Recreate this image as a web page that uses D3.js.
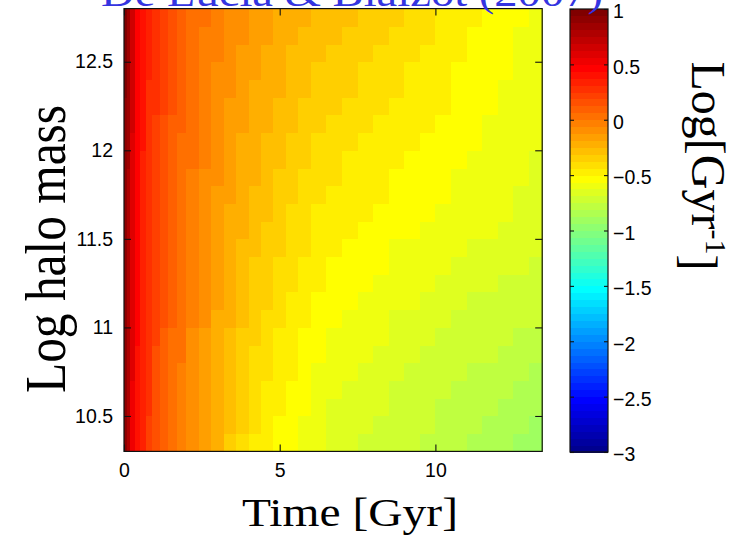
<!DOCTYPE html>
<html><head><meta charset="utf-8">
<script src="https://cdn.jsdelivr.net/npm/d3@7"></script>
<style>body{margin:0;background:#fff;} svg{display:block;}</style>
</head><body>
<svg id="chart" width="740" height="545"></svg>
<script>
// ---------------- data ----------------
const timeEdges = [0,0.1,0.2,0.35,0.5,0.7,0.9,1.15,1.4,1.7,2.0,2.4,2.8,3.2,3.6,4.0,4.4,4.8,5.2,5.6,6.0,6.5,7.0,7.5,8.0,8.5,9.0,9.5,10.0,10.5,11.0,11.5,12.0,12.5,13.0,13.43];
const massEdges = [10.3,10.4,10.5,10.6,10.7,10.8,10.9,11.0,11.1,11.2,11.3,11.4,11.5,11.6,11.7,11.8,11.9,12.0,12.1,12.2,12.3,12.4,12.5,12.6,12.7,12.8];
// log rate [Gyr^-1]; one array per time bin, values from low to high halo mass
const rateByTime = [
 [0.90,0.90,0.90,0.91,0.91,0.91,0.91,0.91,0.91,0.91,0.92,0.92,0.92,0.92,0.92,0.93,0.93,0.93,0.93,0.93,0.94,0.94,0.94,0.95,0.95],
 [0.75,0.75,0.76,0.76,0.77,0.77,0.78,0.78,0.78,0.79,0.79,0.80,0.80,0.80,0.81,0.81,0.82,0.82,0.83,0.83,0.83,0.84,0.84,0.85,0.85],
 [0.55,0.55,0.56,0.56,0.57,0.57,0.58,0.58,0.58,0.59,0.59,0.60,0.60,0.60,0.61,0.61,0.62,0.62,0.63,0.63,0.63,0.64,0.64,0.65,0.65],
 [0.42,0.42,0.43,0.43,0.43,0.43,0.44,0.44,0.44,0.44,0.45,0.45,0.45,0.45,0.46,0.46,0.46,0.46,0.47,0.47,0.47,0.47,0.48,0.48,0.48],
 [0.32,0.32,0.33,0.33,0.33,0.34,0.34,0.34,0.35,0.35,0.35,0.36,0.36,0.36,0.37,0.37,0.37,0.38,0.38,0.38,0.39,0.39,0.39,0.40,0.40],
 [0.24,0.24,0.25,0.25,0.25,0.26,0.26,0.26,0.27,0.27,0.27,0.28,0.28,0.28,0.29,0.29,0.30,0.30,0.30,0.31,0.31,0.32,0.32,0.33,0.33],
 [0.16,0.16,0.17,0.17,0.18,0.18,0.19,0.19,0.19,0.20,0.20,0.21,0.21,0.22,0.22,0.23,0.23,0.24,0.24,0.25,0.25,0.26,0.26,0.27,0.27],
 [0.09,0.10,0.10,0.11,0.11,0.12,0.12,0.13,0.13,0.14,0.14,0.15,0.15,0.16,0.16,0.17,0.17,0.18,0.18,0.19,0.19,0.20,0.20,0.21,0.21],
 [0.03,0.04,0.04,0.05,0.05,0.06,0.06,0.07,0.07,0.08,0.08,0.09,0.09,0.10,0.10,0.11,0.11,0.12,0.12,0.13,0.13,0.14,0.14,0.15,0.15],
 [-0.03,-0.02,-0.02,-0.01,-0.01,0.00,0.01,0.01,0.02,0.02,0.03,0.03,0.04,0.04,0.05,0.05,0.06,0.06,0.07,0.07,0.08,0.08,0.09,0.09,0.10],
 [-0.10,-0.09,-0.09,-0.08,-0.08,-0.07,-0.07,-0.06,-0.05,-0.05,-0.04,-0.04,-0.03,-0.02,-0.02,-0.01,0.00,0.00,0.01,0.02,0.02,0.03,0.04,0.04,0.05],
 [-0.17,-0.16,-0.16,-0.15,-0.14,-0.14,-0.13,-0.12,-0.12,-0.11,-0.10,-0.10,-0.09,-0.08,-0.08,-0.07,-0.06,-0.05,-0.05,-0.04,-0.03,-0.02,-0.02,-0.01,0.00],
 [-0.25,-0.24,-0.23,-0.23,-0.22,-0.21,-0.20,-0.19,-0.18,-0.18,-0.17,-0.16,-0.15,-0.14,-0.13,-0.12,-0.11,-0.10,-0.10,-0.09,-0.08,-0.07,-0.06,-0.05,-0.04],
 [-0.32,-0.31,-0.30,-0.29,-0.28,-0.27,-0.26,-0.25,-0.24,-0.23,-0.22,-0.21,-0.20,-0.19,-0.18,-0.17,-0.16,-0.15,-0.14,-0.13,-0.12,-0.11,-0.10,-0.09,-0.08],
 [-0.38,-0.37,-0.36,-0.35,-0.34,-0.33,-0.32,-0.30,-0.29,-0.28,-0.27,-0.26,-0.25,-0.24,-0.23,-0.22,-0.20,-0.19,-0.18,-0.17,-0.16,-0.15,-0.13,-0.12,-0.11],
 [-0.44,-0.43,-0.42,-0.40,-0.39,-0.38,-0.37,-0.35,-0.34,-0.33,-0.32,-0.30,-0.29,-0.28,-0.27,-0.25,-0.24,-0.23,-0.22,-0.20,-0.19,-0.18,-0.17,-0.15,-0.14],
 [-0.48,-0.47,-0.45,-0.44,-0.43,-0.41,-0.40,-0.39,-0.37,-0.36,-0.35,-0.33,-0.32,-0.31,-0.30,-0.28,-0.27,-0.26,-0.25,-0.23,-0.22,-0.21,-0.20,-0.18,-0.17],
 [-0.52,-0.51,-0.49,-0.48,-0.47,-0.45,-0.44,-0.43,-0.41,-0.40,-0.39,-0.37,-0.36,-0.35,-0.33,-0.32,-0.31,-0.29,-0.28,-0.27,-0.25,-0.24,-0.23,-0.21,-0.20],
 [-0.56,-0.55,-0.53,-0.52,-0.50,-0.49,-0.48,-0.46,-0.45,-0.43,-0.42,-0.40,-0.39,-0.38,-0.36,-0.35,-0.34,-0.32,-0.31,-0.30,-0.28,-0.27,-0.26,-0.24,-0.23],
 [-0.59,-0.58,-0.56,-0.55,-0.53,-0.52,-0.51,-0.49,-0.48,-0.46,-0.45,-0.43,-0.42,-0.41,-0.39,-0.38,-0.36,-0.35,-0.34,-0.32,-0.31,-0.29,-0.28,-0.26,-0.25],
 [-0.62,-0.61,-0.60,-0.58,-0.57,-0.55,-0.54,-0.52,-0.51,-0.49,-0.48,-0.46,-0.45,-0.44,-0.42,-0.41,-0.39,-0.38,-0.36,-0.35,-0.33,-0.32,-0.30,-0.29,-0.27],
 [-0.65,-0.64,-0.63,-0.61,-0.60,-0.58,-0.57,-0.55,-0.54,-0.52,-0.51,-0.49,-0.48,-0.46,-0.45,-0.43,-0.42,-0.40,-0.38,-0.37,-0.35,-0.34,-0.32,-0.31,-0.29],
 [-0.67,-0.66,-0.65,-0.63,-0.62,-0.60,-0.59,-0.57,-0.56,-0.54,-0.53,-0.51,-0.50,-0.48,-0.47,-0.45,-0.44,-0.42,-0.40,-0.39,-0.37,-0.36,-0.34,-0.33,-0.31],
 [-0.69,-0.68,-0.67,-0.65,-0.64,-0.62,-0.61,-0.59,-0.58,-0.56,-0.55,-0.53,-0.52,-0.50,-0.49,-0.47,-0.46,-0.44,-0.42,-0.41,-0.39,-0.38,-0.36,-0.35,-0.33],
 [-0.71,-0.70,-0.68,-0.67,-0.65,-0.64,-0.62,-0.61,-0.59,-0.58,-0.56,-0.55,-0.53,-0.52,-0.50,-0.49,-0.47,-0.46,-0.44,-0.43,-0.41,-0.40,-0.38,-0.37,-0.35],
 [-0.73,-0.72,-0.70,-0.69,-0.67,-0.66,-0.64,-0.63,-0.61,-0.60,-0.58,-0.57,-0.55,-0.54,-0.52,-0.51,-0.49,-0.48,-0.46,-0.45,-0.43,-0.42,-0.40,-0.39,-0.37],
 [-0.75,-0.73,-0.72,-0.70,-0.69,-0.67,-0.66,-0.64,-0.62,-0.61,-0.59,-0.58,-0.56,-0.55,-0.53,-0.52,-0.51,-0.49,-0.48,-0.47,-0.45,-0.44,-0.43,-0.41,-0.40],
 [-0.77,-0.75,-0.74,-0.72,-0.70,-0.69,-0.67,-0.65,-0.64,-0.62,-0.60,-0.59,-0.57,-0.56,-0.55,-0.53,-0.52,-0.51,-0.50,-0.48,-0.47,-0.46,-0.45,-0.43,-0.42],
 [-0.79,-0.77,-0.76,-0.74,-0.72,-0.70,-0.69,-0.67,-0.65,-0.63,-0.62,-0.60,-0.58,-0.57,-0.56,-0.55,-0.54,-0.53,-0.52,-0.50,-0.49,-0.48,-0.47,-0.46,-0.45],
 [-0.81,-0.79,-0.78,-0.76,-0.74,-0.72,-0.71,-0.69,-0.67,-0.65,-0.64,-0.62,-0.60,-0.59,-0.58,-0.57,-0.56,-0.55,-0.54,-0.53,-0.52,-0.51,-0.50,-0.49,-0.48],
 [-0.83,-0.81,-0.79,-0.78,-0.76,-0.74,-0.72,-0.70,-0.69,-0.67,-0.65,-0.63,-0.61,-0.60,-0.59,-0.58,-0.57,-0.56,-0.56,-0.55,-0.54,-0.53,-0.52,-0.51,-0.50],
 [-0.85,-0.83,-0.81,-0.79,-0.77,-0.75,-0.74,-0.72,-0.70,-0.68,-0.66,-0.64,-0.62,-0.61,-0.60,-0.60,-0.59,-0.58,-0.57,-0.56,-0.55,-0.55,-0.54,-0.53,-0.52],
 [-0.87,-0.85,-0.83,-0.81,-0.79,-0.77,-0.75,-0.73,-0.71,-0.69,-0.67,-0.65,-0.63,-0.62,-0.62,-0.61,-0.60,-0.59,-0.59,-0.58,-0.57,-0.56,-0.56,-0.55,-0.54],
 [-0.88,-0.86,-0.84,-0.82,-0.80,-0.78,-0.76,-0.74,-0.72,-0.70,-0.68,-0.66,-0.64,-0.63,-0.63,-0.62,-0.61,-0.61,-0.60,-0.59,-0.59,-0.58,-0.57,-0.57,-0.56],
 [-0.90,-0.88,-0.86,-0.84,-0.82,-0.80,-0.78,-0.75,-0.73,-0.71,-0.69,-0.67,-0.65,-0.64,-0.64,-0.63,-0.63,-0.62,-0.62,-0.61,-0.61,-0.60,-0.59,-0.59,-0.58]
];
const xTicks = [0, 5, 10];
const yTicks = [10.5, 11, 11.5, 12, 12.5];
const cTicks = [-3, -2.5, -2, -1.5, -1, -0.5, 0, 0.5, 1];
const colorDomain = [-3, 1];
const titleText = "De Lucia & Blaizot (2007)";
const xLabel = "Time [Gyr]";
const yLabel = "Log halo mass";

// ---------------- rendering ----------------
const svg = d3.select("#chart");
const P = {left:124, right:542.2, top:8.6, bottom:451.4};
const CB = {left:570, right:608, top:9, bottom:452};

const x = d3.scaleLinear().domain([0, 13.43]).range([P.left, P.right]);
const y = d3.scaleLinear().domain([10.3, 12.8]).range([P.bottom, P.top]);

// MATLAB jet(64)
function jet64(i){
  const k = i + 1;
  const u = j => j <= 16 ? j/16 : (j <= 31 ? 1 : (48 - j)/16);
  const r = k >= 25 ? u(k - 24) : 0;
  const g = (k >= 9 && k <= 55) ? u(k - 8) : 0;
  const b = k <= 39 ? u(k + 8) : 0;
  return d3.rgb(Math.round(r*255), Math.round(g*255), Math.round(b*255)).formatHex();
}
const jetColors = d3.range(64).map(jet64);
const color = d3.scaleQuantize().domain(colorDomain).range(jetColors);

// heatmap cells
const cells = [];
rateByTime.forEach((col, i) => {
  col.forEach((v, j) => {
    cells.push({t0: timeEdges[i], t1: timeEdges[i+1], m0: massEdges[j], m1: massEdges[j+1], v});
  });
});
svg.append("g").attr("shape-rendering", "crispEdges")
  .selectAll("rect").data(cells).join("rect")
  .attr("x", d => x(d.t0))
  .attr("y", d => y(d.m1))
  .attr("width", d => x(d.t1) - x(d.t0) + 0.5)
  .attr("height", d => y(d.m0) - y(d.m1) + 0.5)
  .attr("fill", d => color(d.v));

// plot box
svg.append("rect").attr("x", P.left).attr("y", P.top)
  .attr("width", P.right - P.left).attr("height", P.bottom - P.top)
  .attr("fill", "none").attr("stroke", "#111").attr("stroke-width", 1.2);

const tickFont = "'Liberation Sans', Arial, Helvetica, sans-serif";
const fmt = d => String(d).replace("-", "\u2212");
function styleAxis(g){
  g.select(".domain").remove();
  g.selectAll(".tick line").attr("stroke", "#111").attr("stroke-width", 1.1);
  g.selectAll(".tick text").attr("fill", "#000").style("font-family", tickFont).style("font-size", "19.5px");
}
const TL = 7;
svg.append("g").attr("transform", `translate(0,${P.bottom})`)
  .call(d3.axisBottom(x).tickValues(xTicks).tickSizeInner(-TL).tickSizeOuter(0).tickPadding(12).tickFormat(fmt))
  .call(styleAxis);
svg.append("g").attr("transform", `translate(0,${P.top})`)
  .call(d3.axisTop(x).tickValues(xTicks).tickSizeInner(-TL).tickSizeOuter(0).tickFormat(""))
  .call(styleAxis);
svg.append("g").attr("transform", `translate(${P.left},0)`)
  .call(d3.axisLeft(y).tickValues(yTicks).tickSizeInner(-TL).tickSizeOuter(0).tickPadding(11).tickFormat(fmt))
  .call(styleAxis);
svg.append("g").attr("transform", `translate(${P.right},0)`)
  .call(d3.axisRight(y).tickValues(yTicks).tickSizeInner(-TL).tickSizeOuter(0).tickFormat(""))
  .call(styleAxis);

// colorbar
const cy = d3.scaleLinear().domain(colorDomain).range([CB.bottom, CB.top]);
const step = (colorDomain[1] - colorDomain[0]) / 64;
svg.append("g").attr("shape-rendering", "crispEdges")
  .selectAll("rect").data(jetColors).join("rect")
  .attr("x", CB.left).attr("width", CB.right - CB.left)
  .attr("y", (c, i) => cy(colorDomain[0] + (i+1)*step))
  .attr("height", (c, i) => cy(colorDomain[0] + i*step) - cy(colorDomain[0] + (i+1)*step) + 0.5)
  .attr("fill", c => c);
svg.append("rect").attr("x", CB.left).attr("y", CB.top)
  .attr("width", CB.right - CB.left).attr("height", CB.bottom - CB.top)
  .attr("fill", "none").attr("stroke", "#111").attr("stroke-width", 1.2);
svg.append("g").attr("transform", `translate(${CB.right},0)`)
  .call(d3.axisRight(cy).tickValues(cTicks).tickSizeInner(-4).tickSizeOuter(0).tickPadding(5).tickFormat(fmt))
  .call(styleAxis)
  .call(g => g.selectAll(".tick text").attr("dy", "0.45em"));
svg.append("g").attr("transform", `translate(${CB.left},0)`)
  .call(d3.axisLeft(cy).tickValues(cTicks).tickSizeInner(-4).tickSizeOuter(0).tickFormat(""))
  .call(styleAxis);

// labels
const serif = "'Liberation Serif', 'Times New Roman', Times, serif";
svg.append("text").attr("x", 350).attr("y", 526)
  .attr("text-anchor", "middle").style("font-family", serif).style("font-size", "39px")
  .attr("textLength", 216).attr("lengthAdjust", "spacingAndGlyphs")
  .attr("fill", "#000").text(xLabel);

svg.append("text").attr("transform", "translate(65,249) rotate(-90)")
  .attr("text-anchor", "middle").style("font-family", serif).style("font-size", "56px")
  .attr("textLength", 288).attr("lengthAdjust", "spacingAndGlyphs")
  .attr("fill", "#000").text(yLabel);

const cl = svg.append("text").attr("transform", "translate(692,166) rotate(90)")
  .attr("text-anchor", "middle").style("font-family", serif).style("font-size", "48px")
  .attr("fill", "#000");
cl.append("tspan").text("Log[Gyr");
cl.append("tspan").attr("dy", "-0.45em").style("font-size", "30px").text("-1");
cl.append("tspan").attr("dy", "0.45em").text("]");

// title (partly above the canvas, as in the original figure)
svg.append("text").attr("x", 101).attr("y", 6)
  .style("font-family", serif).style("font-size", "40px")
  .attr("textLength", 502).attr("lengthAdjust", "spacingAndGlyphs")
  .attr("fill", "#3434e0").text(titleText);
</script>
</body></html>
